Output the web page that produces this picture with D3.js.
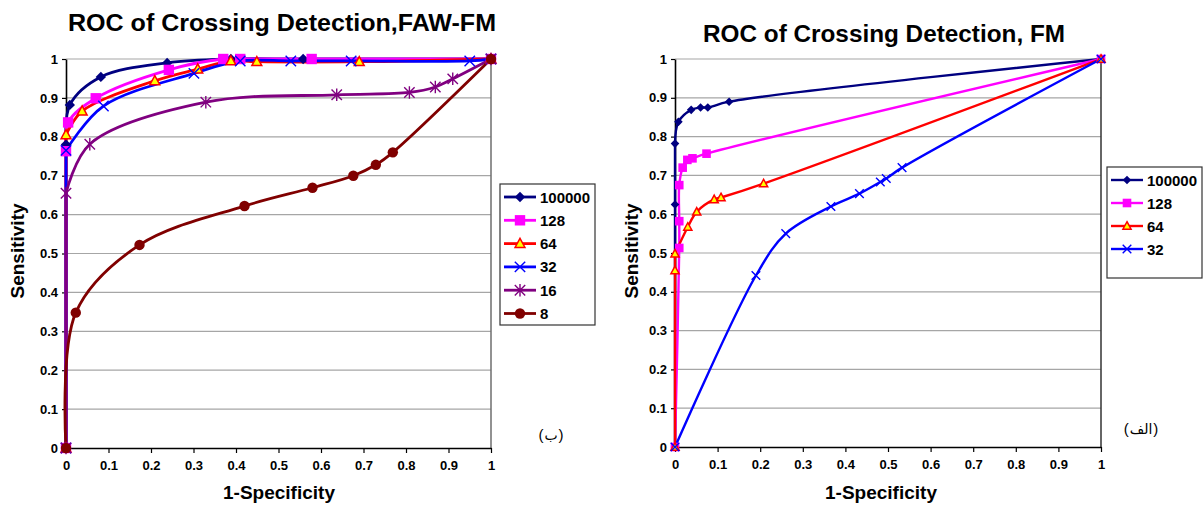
<!DOCTYPE html>
<html>
<head>
<meta charset="utf-8">
<script src="https://cdn.jsdelivr.net/npm/d3@7"></script>
<style>
  body { margin: 0; background: #fff; }
  svg { display: block; }
  text { font-family: "Liberation Sans", Arial, sans-serif; }
</style>
</head>
<body>
<div id="figure"></div>
<script>
// tick labels shared by both charts
var tickValues = [0, 0.1, 0.2, 0.3, 0.4, 0.5, 0.6, 0.7, 0.8, 0.9, 1];
var tickLabels = ["0", "0.1", "0.2", "0.3", "0.4", "0.5", "0.6", "0.7", "0.8", "0.9", "1"];

// left chart: FAW-FM  [1-specificity, sensitivity]
var faw100000 = [[0,0],[0,0.78],[0.009,0.882],[0.082,0.954],[0.238,0.99],[0.388,1.0],[0.558,1.0],[1,1]];
var faw128 = [[0,0],[0,0.763],[0.005,0.837],[0.07,0.899],[0.242,0.972],[0.37,1.0],[0.41,1.0],[0.578,1.0],[1,1]];
var faw64 = [[0,0],[0,0.805],[0.038,0.866],[0.209,0.944],[0.31,0.974],[0.388,0.995],[0.449,0.993],[0.69,0.993],[1,1]];
var faw32 = [[0,0],[0,0.765],[0.088,0.879],[0.301,0.963],[0.41,0.995],[0.529,0.995],[0.671,0.995],[0.95,0.995],[1,1]];
var faw16 = [[0,0],[0,0.655],[0.056,0.781],[0.329,0.889],[0.637,0.908],[0.808,0.914],[0.869,0.928],[0.91,0.949],[1,1]];
var faw8 = [[0,0],[0.023,0.348],[0.173,0.522],[0.42,0.622],[0.58,0.669],[0.676,0.70],[0.729,0.728],[0.769,0.76],[1,1]];

// right chart: FM
var fm100000 = [[0,0],[0,0.625],[0,0.782],[0.008,0.838],[0.038,0.869],[0.06,0.875],[0.077,0.875],[0.127,0.89],[1,1]];
var fm128 = [[0,0],[0.01,0.513],[0.01,0.582],[0.01,0.675],[0.018,0.72],[0.029,0.74],[0.041,0.744],[0.074,0.756],[1,1]];
var fm64 = [[0,0],[0,0.455],[0,0.498],[0.03,0.567],[0.051,0.606],[0.092,0.638],[0.108,0.643],[0.208,0.679],[1,1]];
var fm32 = [[0,0],[0.19,0.442],[0.26,0.55],[0.366,0.62],[0.433,0.653],[0.482,0.683],[0.496,0.692],[0.533,0.72],[1,1]];

var seriesNames = ["100000", "128", "64", "32", "16", "8"];

var styles = {
  "100000": {color: "#000080", marker: "diamond"},
  "128": {color: "#ff00ff", marker: "square"},
  "64": {color: "#ff0000", marker: "triangle"},
  "32": {color: "#0000ff", marker: "times"},
  "16": {color: "#800080", marker: "star"},
  "8": {color: "#800000", marker: "circle"}
};

const svg = d3.select("#figure")
  .append("svg")
  .attr("width", 1203)
  .attr("height", 507);

// draw one marker at (0,0) inside group g
function marker(g, type, color, s) {
  if (type == "diamond") {
    g.append("path").attr("d", `M0,${-s}L${s},0L0,${s}L${-s},0Z`).attr("fill", color);
  } else if (type == "square") {
    g.append("rect").attr("x", -s).attr("y", -s).attr("width", 2 * s).attr("height", 2 * s).attr("fill", color);
  } else if (type == "triangle") {
    g.append("path").attr("d", `M0,${-s}L${s * 0.95},${s * 0.75}L${-s * 0.95},${s * 0.75}Z`)
      .attr("fill", "#ffff00").attr("stroke", color).attr("stroke-width", 1.5);
  } else if (type == "times") {
    g.append("path").attr("d", `M${-s},${-s}L${s},${s}M${-s},${s}L${s},${-s}`)
      .attr("stroke", color).attr("stroke-width", 1.4).attr("fill", "none");
  } else if (type == "star") {
    g.append("path").attr("d", `M${-s},${-s}L${s},${s}M${-s},${s}L${s},${-s}M0,${-s * 1.2}L0,${s * 1.2}`)
      .attr("stroke", color).attr("stroke-width", 1.4).attr("fill", "none");
  } else {
    g.append("circle").attr("r", s).attr("fill", color);
  }
}

function drawChart(cfg) {
  const x = d3.scaleLinear().domain([0, 1]).range([cfg.left, cfg.right]);
  const y = d3.scaleLinear().domain([0, 1]).range([cfg.bottom, cfg.top]);
  const g = svg.append("g");

  // gridlines
  g.append("g").selectAll("line")
    .data(tickValues.slice(1))
    .join("line")
    .attr("x1", cfg.left).attr("x2", cfg.right)
    .attr("y1", d => y(d)).attr("y2", d => y(d))
    .attr("stroke", "#a6a6a6").attr("stroke-width", 1.2);

  // plot area border (right side)
  g.append("line")
    .attr("x1", cfg.right).attr("x2", cfg.right)
    .attr("y1", cfg.top).attr("y2", cfg.bottom)
    .attr("stroke", cfg.borderColor).attr("stroke-width", 1.5);

  // axes
  const xAxis = g.append("g")
    .attr("transform", `translate(0,${cfg.bottom})`)
    .call(d3.axisBottom(x).tickValues(tickValues).tickFormat((d, i) => tickLabels[i]).tickSize(5).tickSizeOuter(0));
  const yAxis = g.append("g")
    .attr("transform", `translate(${cfg.left},0)`)
    .call(d3.axisLeft(y).tickValues(tickValues).tickFormat((d, i) => tickLabels[i]).tickSize(4).tickSizeOuter(0));
  [xAxis, yAxis].forEach(a => {
    a.select(".domain").attr("stroke", "#000").attr("stroke-width", 1.6);
    a.selectAll(".tick line").attr("stroke", "#000").attr("stroke-width", 1.2);
    a.selectAll(".tick text")
      .attr("fill", "#000")
      .style("font-size", "13px")
      .style("font-weight", "bold")
      .style("font-family", "'Liberation Sans', Arial, sans-serif");
  });
  xAxis.selectAll(".tick text").attr("dy", "1.05em");
  yAxis.selectAll(".tick text").attr("x", -8);

  // series lines: straight along the y axis, smoothed after that
  const straight = d3.line().x(d => x(d[0])).y(d => y(d[1]));
  const smooth = d3.line()
    .x(d => x(d[0]))
    .y(d => y(d[1]))
    .curve(d3.curveCatmullRom.alpha(0.5));

  cfg.series.forEach((data, i) => {
    const st = styles[seriesNames[i]];
    let k = 0;
    while (k + 1 < data.length && data[k + 1][0] == 0) k++;
    const path = (k > 0 ? straight(data.slice(0, k + 1)) : "") + smooth(data.slice(k)).replace(/^M/, k > 0 ? "L" : "M");
    g.append("path")
      .attr("d", path)
      .attr("fill", "none")
      .attr("stroke", st.color)
      .attr("stroke-width", cfg.lineWidth)
      .attr("stroke-linejoin", "round");
  });
  cfg.series.forEach((data, i) => {
    const st = styles[seriesNames[i]];
    data.forEach(d => {
      const m = g.append("g").attr("transform", `translate(${x(d[0])},${y(d[1])})`);
      marker(m, st.marker, st.color, cfg.markerSize);
    });
  });

  // titles
  g.append("text")
    .attr("x", cfg.titleX).attr("y", cfg.titleY)
    .attr("text-anchor", "middle")
    .attr("textLength", cfg.titleLength)
    .attr("lengthAdjust", "spacingAndGlyphs")
    .style("font-size", "23px").style("font-weight", "bold")
    .text(cfg.title);
  g.append("text")
    .attr("x", cfg.xTitleX).attr("y", 499)
    .attr("text-anchor", "middle")
    .style("font-size", "19px").style("font-weight", "bold")
    .text("1-Specificity");
  g.append("text")
    .attr("transform", `translate(${cfg.yTitleX},251) rotate(-90)`)
    .attr("text-anchor", "middle")
    .style("font-size", "19px").style("font-weight", "bold")
    .text("Sensitivity");

  // legend
  const lg = cfg.legend;
  g.append("rect")
    .attr("x", lg.x).attr("y", lg.y)
    .attr("width", lg.w).attr("height", lg.h)
    .attr("fill", "#fff").attr("stroke", "#333").attr("stroke-width", 1.2);
  cfg.series.forEach((data, i) => {
    const st = styles[seriesNames[i]];
    const ly = lg.y + lg.first + i * lg.step;
    g.append("line")
      .attr("x1", lg.x + 4).attr("x2", lg.x + 36)
      .attr("y1", ly).attr("y2", ly)
      .attr("stroke", st.color).attr("stroke-width", cfg.lineWidth);
    const m = g.append("g").attr("transform", `translate(${lg.x + 20},${ly})`);
    marker(m, st.marker, st.color, cfg.markerSize);
    g.append("text")
      .attr("x", lg.x + 40).attr("y", ly + 5.5)
      .style("font-size", "15px").style("font-weight", "bold")
      .text(seriesNames[i]);
  });

  // panel label: parentheses placed separately so bidi can't move them
  const tag = g.append("g").style("font-family", "'DejaVu Serif', 'DejaVu Sans', serif").style("font-size", "15px");
  const word = tag.append("text")
    .attr("x", cfg.tag.x).attr("y", cfg.tag.y)
    .attr("text-anchor", "middle")
    .style("font-family", "'DejaVu Sans', sans-serif")
    .style("font-size", "14px")
    .text(cfg.tag.text);
  const half = word.node().getComputedTextLength() / 2;
  tag.append("text")
    .attr("x", cfg.tag.x - half - 1).attr("y", cfg.tag.y)
    .attr("text-anchor", "end").text("(");
  tag.append("text")
    .attr("x", cfg.tag.x + half + 1).attr("y", cfg.tag.y)
    .attr("text-anchor", "start").text(")");
}

drawChart({
  left: 66, right: 491, top: 59, bottom: 448,
  series: [faw100000, faw128, faw64, faw32, faw16, faw8],
  lineWidth: 2.8, markerSize: 5.2, borderColor: "#6e6e6e",
  title: "ROC of Crossing Detection,FAW-FM", titleX: 282, titleY: 31, titleLength: 428,
  xTitleX: 279, yTitleX: 24,
  legend: {x: 500, y: 184, w: 95, h: 141, first: 13, step: 23.3},
  tag: {x: 551, y: 440, text: "ب"}
});

drawChart({
  left: 675, right: 1101, top: 59, bottom: 447,
  series: [fm100000, fm128, fm64, fm32],
  lineWidth: 2.4, markerSize: 4.3, borderColor: "#333",
  title: "ROC of Crossing Detection, FM", titleX: 884, titleY: 42, titleLength: 362,
  xTitleX: 881, yTitleX: 638,
  legend: {x: 1107, y: 167, w: 95, h: 111, first: 13, step: 23},
  tag: {x: 1141, y: 434, text: "الف"}
});
</script>
</body>
</html>
